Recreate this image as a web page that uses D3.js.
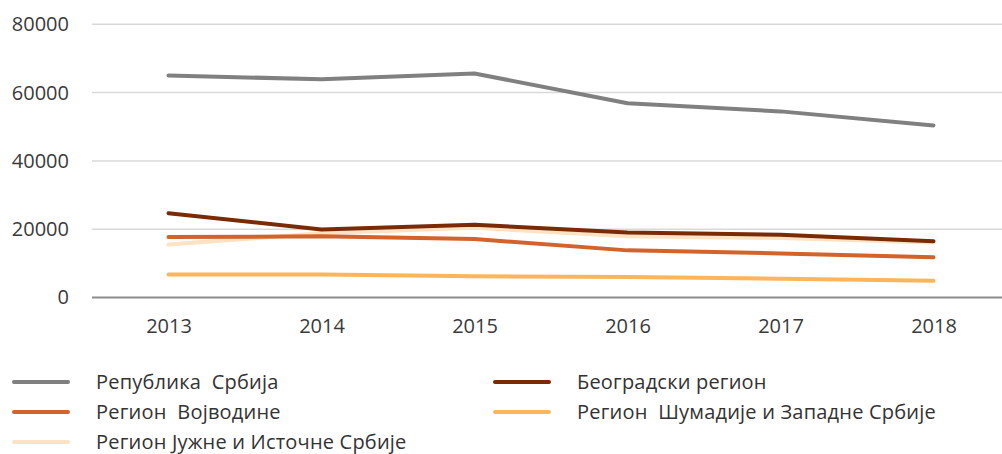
<!DOCTYPE html>
<html>
<head>
<meta charset="utf-8">
<script src="https://cdn.jsdelivr.net/npm/d3@7"></script>
<style>
  html, body { margin: 0; padding: 0; background: #fff; }
  svg { display: block; font-family: "Open Sans", sans-serif; }
</style>
</head>
<body>
<svg id="chart" width="1002" height="454"></svg>
<script>
// Years on the horizontal axis
const years = ["2013", "2014", "2015", "2016", "2017", "2018"];

// Series names (legend order)
const seriesNames = [
  "Република  Србија",
  "Београдски регион",
  "Регион  Војводине",
  "Регион  Шумадије и Западне Србије",
  "Регион Јужне и Источне Србије"
];

// Values per series, one per year
const srbija     = [65000, 63900, 65600, 56900, 54500, 50400];
const beograd    = [24700, 19900, 21300, 19000, 18400, 16500];
const vojvodina  = [17700, 17900, 17100, 13800, 12900, 11800];
const sumadija   = [6700, 6700, 6200, 6000, 5500, 4900];
const jug        = [15500, 18800, 20400, 17900, 17400, 16100];

const yTicks = [0, 20000, 40000, 60000, 80000];

const seriesColors = ["#808080", "#7b2a06", "#d4622b", "#fdb55c", "#fde3c3"];
const seriesValues = [srbija, beograd, vojvodina, sumadija, jug];

const svg = d3.select("#chart");
const W = 1002;
const plotLeft = 92, plotRight = 1010;

const x = d3.scalePoint().domain(years).range([plotLeft, plotRight]).padding(0.5);
const y = d3.scaleLinear().domain([0, 80000]).range([297.5, 24.3]);

// Horizontal gridlines
svg.append("g")
  .selectAll("line")
  .data(yTicks.filter(d => d !== 0))
  .join("line")
  .attr("x1", plotLeft).attr("x2", W)
  .attr("y1", d => y(d)).attr("y2", d => y(d))
  .attr("stroke", "#d9d9d9").attr("stroke-width", 1.5);

// Y axis labels
const yAxis = svg.append("g")
  .attr("transform", `translate(${plotLeft},0)`)
  .call(d3.axisLeft(y).tickValues(yTicks).tickSize(0).tickPadding(23).tickFormat(d3.format("d")));
yAxis.select(".domain").remove();
yAxis.selectAll("text").attr("font-size", 20).attr("fill", "#3a3a3a").attr("font-family", "Open Sans");

// X axis with baseline
const xAxis = svg.append("g")
  .attr("transform", `translate(0,${y(0)})`)
  .call(d3.axisBottom(x).tickSize(0).tickPadding(21));
xAxis.select(".domain").attr("stroke", "#8c8c8c").attr("stroke-width", 2)
  .attr("d", `M${plotLeft},0H${W}`);
xAxis.selectAll("text").attr("font-size", 20).attr("fill", "#3a3a3a").attr("font-family", "Open Sans");

// Series lines (drawn so the lightest are under the darker ones where they overlap)
const line = d3.line().x((d, i) => x(years[i])).y(d => y(d));
const drawOrder = [4, 3, 2, 1, 0];
svg.append("g")
  .selectAll("path")
  .data(drawOrder)
  .join("path")
  .attr("d", i => line(seriesValues[i]))
  .attr("fill", "none")
  .attr("stroke", i => seriesColors[i])
  .attr("stroke-width", 4)
  .attr("stroke-linecap", "round")
  .attr("stroke-linejoin", "round");

// Legend: two columns, three rows
const legendPos = [
  [14, 382], [495, 382],
  [14, 412], [495, 412],
  [14, 442]
];
const legend = svg.append("g")
  .selectAll("g")
  .data(seriesNames)
  .join("g")
  .attr("transform", (d, i) => `translate(${legendPos[i][0]},${legendPos[i][1]})`);
legend.append("line")
  .attr("x1", 0).attr("x2", 54)
  .attr("stroke", (d, i) => seriesColors[i])
  .attr("stroke-width", 4)
  .attr("stroke-linecap", "round");
legend.append("text")
  .attr("x", 82)
  .attr("dy", "0.35em")
  .attr("font-size", 20)
  .attr("letter-spacing", 0.2)
  .attr("fill", "#333")
  .style("white-space", "pre")
  .text(d => d);
</script>
</body>
</html>
